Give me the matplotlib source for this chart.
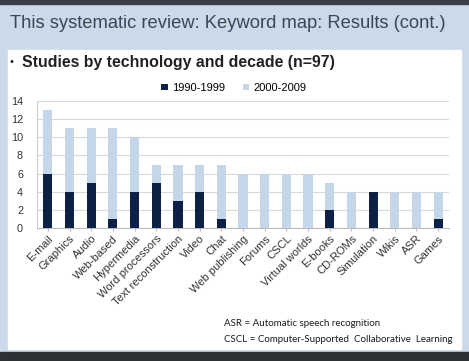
import matplotlib.pyplot as plt
import matplotlib.transforms as mtransforms
from matplotlib.patches import Rectangle
import numpy as np

categories = ["E-mail", "Graphics", "Audio", "Web-based", "Hypermedia", "Word processors",
              "Text reconstruction", "Video", "Chat", "Web publishing", "Forums", "CSCL",
              "Virtual worlds", "E-books", "CD-ROMs", "Simulation", "Wikis", "ASR", "Games"]
s1990 = [6, 4, 5, 1, 4, 5, 3, 4, 1, 0, 0, 0, 0, 2, 0, 4, 0, 0, 1]
s2000 = [7, 7, 6, 10, 6, 2, 4, 3, 6, 6, 6, 6, 6, 3, 4, 0, 4, 4, 3]
yticks = [0, 2, 4, 6, 8, 10, 12, 14]

DARK = "#0c2145"
LIGHT = "#c6d6e9"
BG = "#cbd9e8"
FONT = "Liberation Sans"

fig = plt.figure(figsize=(4.69, 3.61), dpi=100)
fig.patch.set_facecolor(BG)

# slide frame: dark strips and white panel
fig.add_artist(Rectangle((0, 0.988), 1, 0.012, transform=fig.transFigure, color="#3b3f45", zorder=0))
fig.add_artist(Rectangle((0, 0), 1, 0.025, transform=fig.transFigure, color="#2e3136", zorder=0))
fig.add_artist(Rectangle((8 / 469, 1 - 349 / 361), 453 / 469, 299 / 361,
                         transform=fig.transFigure, color="white", zorder=0))

fig.text(10 / 469, 1 - 23 / 361, "This systematic review: Keyword map: Results (cont.)",
         fontsize=13.2, color="#3a4758", va="center", family=FONT)
fig.text(9 / 469, 1 - 62 / 361, "\u2022", fontsize=8, color="#222222", va="center", family=FONT)
fig.text(22 / 469, 1 - 62 / 361, "Studies by technology and decade (n=97)",
         fontsize=11.4, fontweight="bold", color="#222222", va="center", family=FONT)

ax = fig.add_axes([37 / 469, 1 - 228 / 361, 412 / 469, 127 / 361])
x = np.arange(len(categories))
ax.bar(x, s1990, width=0.42, color=DARK, label="1990-1999", zorder=3)
ax.bar(x, s2000, width=0.42, bottom=s1990, color=LIGHT, label="2000-2009", zorder=3)

ax.set_xlim(-0.5, len(categories) - 0.5)
ax.set_ylim(0, 14)
ax.set_yticks(yticks)
ax.set_yticklabels([str(t) for t in yticks], fontsize=7.8, color="#333333", family=FONT)
ax.yaxis.grid(True, color="#d9d9d9", linewidth=0.8, zorder=0)
ax.set_xticks(x)
ax.set_xticklabels(categories, rotation=45, ha="right", va="top", rotation_mode="anchor",
                   fontsize=8, color="#333333", family=FONT)
shift = mtransforms.ScaledTranslation(9 / 100, -7 / 100, fig.dpi_scale_trans)
for lab in ax.get_xticklabels():
    lab.set_transform(lab.get_transform() + shift)
ax.tick_params(axis="y", length=0, pad=10)
ax.tick_params(axis="x", length=2, color="#e0b0a0", pad=2)
for side in ["top", "right"]:
    ax.spines[side].set_visible(False)
ax.spines["left"].set_color("#cccccc")
ax.spines["bottom"].set_color("#bbbbbb")

ax.legend(loc="lower center", bbox_to_anchor=(0.478, 1.01), ncol=2, frameon=False,
          handlelength=0.55, handleheight=0.55, handletextpad=0.4,
          columnspacing=1.6, borderaxespad=0.2, prop={"family": FONT, "size": 8})

fig.text(224 / 469, 1 - 323 / 361, "ASR = Automatic speech recognition",
         fontsize=7, color="#1a1a1a", va="center", family="Lato")
fig.text(224 / 469, 1 - 339 / 361, "CSCL = Computer-Supported  Collaborative  Learning",
         fontsize=7, color="#1a1a1a", va="center", family="Lato")

fig.savefig("out.png", dpi=100, facecolor=fig.get_facecolor())
